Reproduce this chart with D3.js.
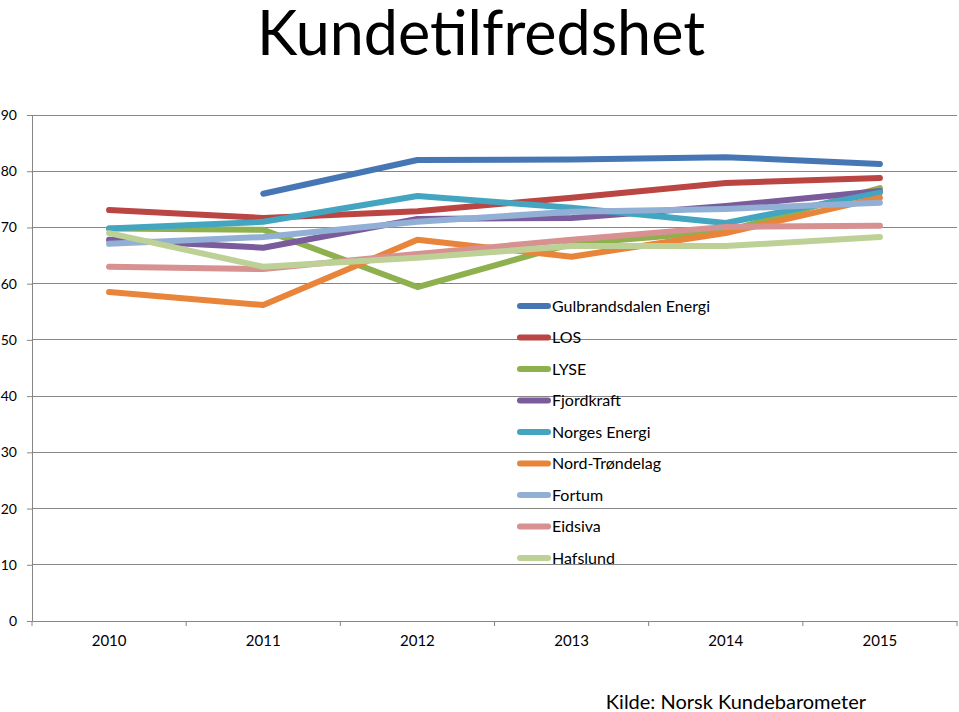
<!DOCTYPE html>
<html><head><meta charset="utf-8">
<script src="https://cdn.jsdelivr.net/npm/d3@7"></script>
<style>body{margin:0;background:#fff}svg{display:block}text{font-family:Lato,"Open Sans",sans-serif}</style>
</head><body><svg id="c" width="959" height="712"></svg>
<script>
const years = ["2010","2011","2012","2013","2014","2015"];
const yTicks = [0,10,20,30,40,50,60,70,80,90];
const seriesNames = ["Gulbrandsdalen Energi","LOS","LYSE","Fjordkraft","Norges Energi","Nord-Trøndelag","Fortum","Eidsiva","Hafslund"];
const gulbrandsdalen = [null,76.0,82.0,82.1,82.5,81.3];
const los = [73.1,71.7,72.9,75.3,77.9,78.8];
const lyse = [69.8,69.6,59.4,67.1,69.3,77.0];
const fjordkraft = [67.8,66.4,71.5,71.7,73.8,76.5];
const norgesEnergi = [69.8,71.0,75.6,73.5,70.8,76.2];
const nordTrondelag = [58.5,56.2,67.8,64.8,69.0,75.3];
const fortum = [67.1,68.3,71.0,72.8,73.3,74.4];
const eidsiva = [63.0,62.6,65.3,67.8,70.1,70.3];
const hafslund = [69.0,63.0,64.6,66.7,66.7,68.3];
const values = [gulbrandsdalen,los,lyse,fjordkraft,norgesEnergi,nordTrondelag,fortum,eidsiva,hafslund];
const colors = ["#4677B4","#BA4542","#8FB04F","#7A5C9C","#43A5BF","#E8853B","#92AFD6","#D69190","#BDD197"];

const svg = d3.select("#c");
const L=32, R=957, T=115, B=621;
const x = d3.scaleBand().domain(years).range([L,R]);
const y = d3.scaleLinear().domain([0,90]).range([B,T]);

// title
svg.append("text").attr("x",481).attr("y",55).attr("text-anchor","middle")
  .attr("font-size",61).attr("fill","#000").text("Kundetilfredshet");

// gridlines
svg.append("g").selectAll("line").data(yTicks.filter(d=>d>0)).join("line")
  .attr("x1",L).attr("x2",R).attr("y1",d=>y(d)).attr("y2",d=>y(d))
  .attr("stroke","#868686").attr("stroke-width",1).attr("shape-rendering","crispEdges");

// y axis
const ya = svg.append("g").attr("transform",`translate(${L},0)`)
  .call(d3.axisLeft(y).tickValues(yTicks).tickSize(5).tickPadding(10));
ya.select(".domain").attr("stroke","#868686");
ya.selectAll(".tick line").attr("stroke","#868686");
ya.selectAll(".tick text").attr("font-size",14).attr("fill","#000").attr("font-family","Lato");

// x axis
const xa = svg.append("g").attr("transform",`translate(0,${B})`)
  .call(d3.axisBottom(x).tickSize(0).tickPadding(14));
xa.select(".domain").attr("stroke","#868686");
xa.selectAll(".tick text").attr("font-size",15).attr("fill","#000").attr("font-family","Lato");
// category boundary ticks
svg.append("g").selectAll("line").data(years).join("line")
  .attr("x1",d=>x(d)+x.bandwidth()).attr("x2",d=>x(d)+x.bandwidth())
  .attr("y1",B).attr("y2",B+5).attr("stroke","#868686");
svg.append("line").attr("x1",L).attr("x2",L).attr("y1",B).attr("y2",B+5).attr("stroke","#868686");

// lines
const line = d3.line().defined(d=>d[1]!=null).x(d=>x(d[0])+x.bandwidth()/2).y(d=>y(d[1]));
values.forEach((vals,i)=>{
  svg.append("path").datum(years.map((yr,j)=>[yr,vals[j]]))
    .attr("d",line).attr("fill","none").attr("stroke",colors[i])
    .attr("stroke-width",6).attr("stroke-linecap","round").attr("stroke-linejoin","round");
});

// legend
const lg = svg.append("g");
seriesNames.forEach((n,i)=>{
  const yy = 306 + i*31.5;
  lg.append("rect").attr("x",517).attr("y",yy-3).attr("width",34).attr("height",6).attr("rx",3)
    .attr("fill",colors[i]);
  lg.append("text").attr("x",552).attr("y",yy).attr("dy","0.35em")
    .attr("font-size",16).attr("fill","#000").text(n);
});

svg.append("text").attr("x",866).attr("y",702).attr("dy","0.35em").attr("text-anchor","end")
  .attr("font-size",20).attr("fill","#000").text("Kilde: Norsk Kundebarometer");
</script></body></html>
